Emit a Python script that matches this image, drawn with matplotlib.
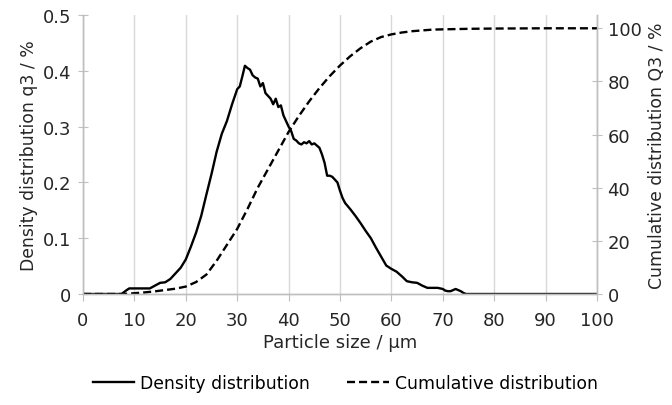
import matplotlib
matplotlib.use("Agg")
import matplotlib.pyplot as plt

# ---- data ----
size_density = [0, 7.5, 8.5, 9, 13, 14, 15, 16, 17, 18, 19, 20, 21, 22, 23, 24, 25, 26, 27, 28, 29, 30,
                30.5, 31, 31.5, 32, 32.5, 33, 33.5, 34, 34.5, 35, 35.5, 36, 36.5, 37, 37.5, 38, 38.5, 39,
                39.5, 40, 40.5, 41, 41.5, 42, 42.5, 43, 43.5, 44, 44.5, 45, 45.5, 46, 46.5, 47, 47.5, 48,
                48.5, 49, 49.5, 50, 50.5, 51, 52, 53, 54, 55, 56, 57, 58, 59, 60, 61, 62, 63, 64, 65, 66,
                67, 68, 69, 70, 70.5, 71, 71.5, 72, 72.5, 73, 73.5, 74, 74.5, 100]
density = [0, 0, 0.007, 0.01, 0.01, 0.015, 0.02, 0.021, 0.027, 0.037, 0.047, 0.062, 0.085, 0.11, 0.14,
           0.178, 0.215, 0.255, 0.287, 0.31, 0.34, 0.367, 0.372, 0.39, 0.409, 0.405, 0.402, 0.392, 0.388,
           0.386, 0.372, 0.378, 0.36, 0.355, 0.35, 0.34, 0.35, 0.335, 0.338, 0.32, 0.31, 0.30, 0.292,
           0.278, 0.275, 0.27, 0.268, 0.272, 0.27, 0.274, 0.268, 0.27, 0.266, 0.262, 0.25, 0.235, 0.212,
           0.212, 0.21, 0.205, 0.2, 0.185, 0.172, 0.163, 0.152, 0.14, 0.127, 0.113, 0.1, 0.083, 0.067,
           0.051, 0.045, 0.04, 0.032, 0.023, 0.021, 0.02, 0.015, 0.011, 0.011, 0.011, 0.009, 0.006,
           0.005, 0.005, 0.007, 0.009, 0.007, 0.005, 0.002, 0, 0]

size_cumul = [0, 8, 10, 12, 14, 16, 18, 20, 22, 24, 26, 28, 30, 32, 34, 36, 38, 40, 42, 44, 46, 48, 50,
              52, 54, 56, 58, 60, 62, 64, 66, 68, 70, 75, 80, 90, 100]
cumulative = [0, 0, 0.3, 0.6, 1.0, 1.5, 2.0, 2.8, 4.5, 7.3, 12.5, 18.5, 24.5, 32, 40, 47, 54, 61, 67,
              72.5, 77.5, 82, 86, 89.5, 92.5, 95, 96.7, 97.7, 98.4, 98.9, 99.2, 99.5, 99.6, 99.8, 99.9,
              100, 100]

x_ticks = list(range(0, 101, 10))
left_ticks = [0, 0.1, 0.2, 0.3, 0.4, 0.5]
left_labels = ["0", "0.1", "0.2", "0.3", "0.4", "0.5"]
right_ticks = [0, 20, 40, 60, 80, 100]

plt.rcParams['font.family'] = ['DejaVu Sans']
FS = 13
TXT = '#262626'

fig = plt.figure(figsize=(6.72, 4.06), dpi=100)
ax = fig.add_axes([83/672, 1-295/406, (597-83)/672, (295-16)/406])
ax2 = ax.twinx()

grey = '#bfbfbf'
ax.set_xlim(0, 100)
ax.set_ylim(0, 0.5)
ax2.set_ylim(0, 105)
ax.set_xticks(x_ticks)
ax.set_yticks(left_ticks)
ax.set_yticklabels(left_labels)
ax2.set_yticks(right_ticks)

ax.grid(axis='x', color='#d9d9d9', linewidth=1)
ax.set_axisbelow(True)

l1, = ax.plot(size_density, density, color='black', linewidth=1.7, label='Density distribution')
l2, = ax2.plot(size_cumul, cumulative, color='black', linewidth=1.7, linestyle=(0, (3.4, 1.7)),
               label='Cumulative distribution')

for a in (ax, ax2):
    a.spines['top'].set_visible(False)
    for s in ('left', 'right', 'bottom'):
        a.spines[s].set_color(grey)
        a.spines[s].set_linewidth(1)
ax.tick_params(axis='y', direction='inout', length=7.2, color=grey, labelcolor=TXT, labelsize=FS, pad=5)
ax.tick_params(axis='x', direction='out', length=5, color=grey, labelcolor=TXT, labelsize=FS, pad=7)
ax2.tick_params(axis='y', direction='inout', length=7.2, color=grey, labelcolor=TXT, labelsize=FS, pad=4)

ax.set_xlabel('Particle size / µm', fontsize=FS, color=TXT, labelpad=3)
ax.set_ylabel('Density distribution q3 / %', fontsize=12.4, color=TXT, labelpad=3)
ax2.set_ylabel('Cumulative distribution Q3 / %', fontsize=12.4, color=TXT, labelpad=5)

fig.legend(handles=[l1, l2], loc='center', bbox_to_anchor=(0.514, 1-384/406), ncol=2, frameon=False,
           fontsize=12.4, handlelength=2.4, handletextpad=0.35, columnspacing=2.15)

fig.savefig('out.png', dpi=100)
